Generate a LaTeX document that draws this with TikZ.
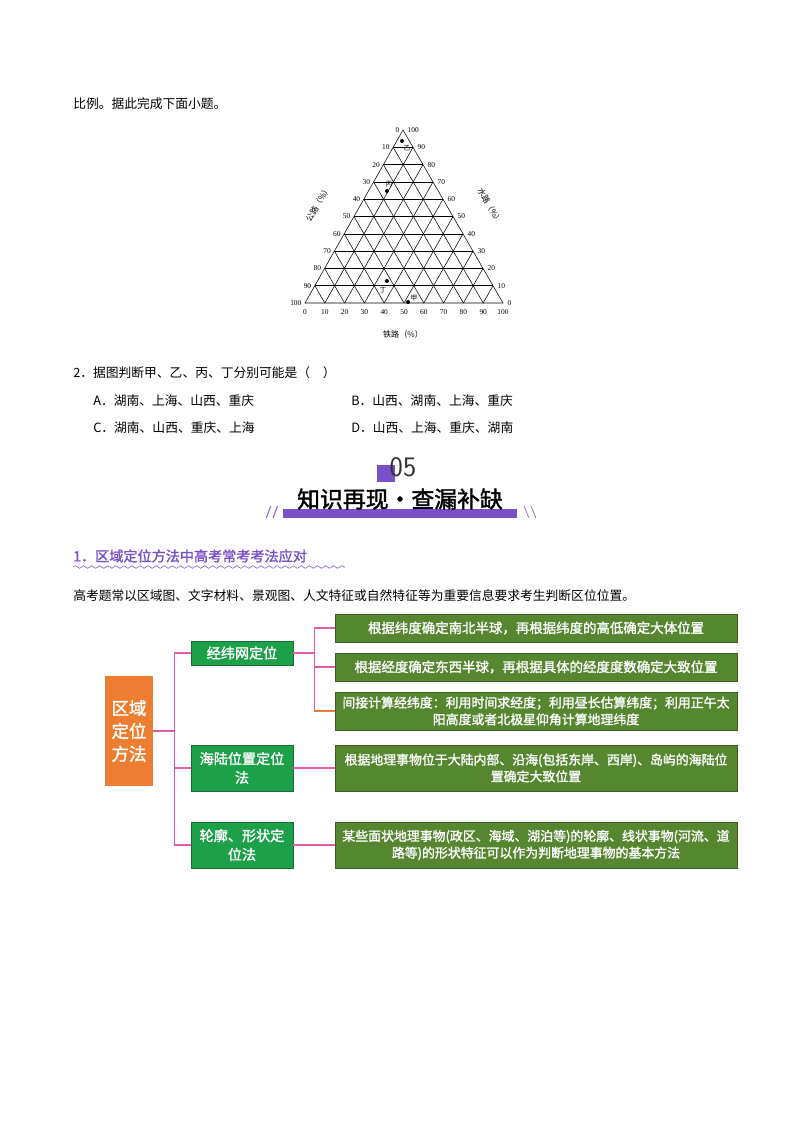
\documentclass[tikz,border=0pt]{standalone}
\usepackage{fontspec}
\setmainfont{Liberation Serif}
\newfontfamily\cjk{Noto Sans CJK SC}
\newfontfamily\cjkb[FakeBold=1.6]{Noto Sans CJK SC}
\usetikzlibrary{calc,decorations.pathmorphing}

\definecolor{leaf}{RGB}{84,135,48}
\definecolor{branch}{RGB}{28,160,72}
\definecolor{root}{RGB}{237,125,49}
\definecolor{link}{RGB}{226,90,170}
\definecolor{violet}{RGB}{120,80,200}

\tikzset{
  leafbox/.style={draw=leaf!70!black,fill=leaf,text=white,font=\cjkb\fontsize{10}{13}\selectfont,align=center,inner sep=2pt,minimum width=299pt},
  longleaf/.style={leafbox,font=\cjkb\fontsize{9.6}{12.5}\selectfont,inner sep=1pt},
  branchbox/.style={draw=branch!70!black,fill=branch,text=white,font=\cjkb\fontsize{10.5}{14}\selectfont,align=center,inner sep=2pt,minimum width=76pt},
  rootbox/.style={fill=root,text=white,font=\cjkb\fontsize{13}{17}\selectfont,align=center,inner sep=2pt},
  conn/.style={link,thick},
  tick/.style={font=\fontsize{5.5}{6}\selectfont,inner sep=1pt},
  axis/.style={font=\cjk\fontsize{6}{7}\selectfont},
  mark label/.style={font=\cjk\fontsize{5}{6}\selectfont,inner sep=0pt},
  body/.style={font=\cjk\fontsize{9.5}{12}\selectfont,anchor=west,inner sep=0pt}
}

\begin{document}
\begin{tikzpicture}[x=0.744pt,y=-0.744pt]
\useasboundingbox (0,0) rectangle (800,1132);
% question text
\node[body] (intro) at (73,104) {比例。据此完成下面小题。};
% ternary diagram
\coordinate (A) at (403,130);
\coordinate (L) at (305,303);
\coordinate (R) at (503,303);
\draw[thin] (A) -- (L) -- (R) -- cycle;
\foreach \i in {1,...,9}{
  \draw[thin] ($(L)!\i/10!(A)$) -- ($(R)!\i/10!(A)$);
  \draw[thin] ($(L)!\i/10!(R)$) -- ($(R)!1-\i/10!(A)$);
  \draw[thin] ($(L)!\i/10!(R)$) -- ($(L)!\i/10!(A)$);
}
\foreach \i in {0,...,10}{
  \pgfmathtruncatemacro\v{10*\i}
  \node[tick,anchor=east] at ($(A)!\i/10!(L)+(-2,0)$) {\v};
  \node[tick,anchor=west] at ($(R)!\i/10!(A)+(3,0)$) {\v};
  \node[tick,anchor=north] at ($(L)!\i/10!(R)+(0,5)$) {\v};
}
\node[axis,rotate=60] (road) at (318,204) {公路（\%）};
\node[axis,rotate=-60] (water) at (490,206) {水路（\%）};
\node[axis] (rail) at (403,334) {铁路（\%）};
\fill (402,141) circle (2);
\fill (387,191) circle (2);
\fill (387,281) circle (2);
\fill (408,302) circle (2);
\node[mark label] at (407,148) {乙};
\node[mark label] at (389,184) {丙};
\node[mark label] at (383,290) {丁};
\node[mark label] at (414,298) {甲};
% question 2
\node[body] (q2) at (73,373) {2．据图判断甲、乙、丙、丁分别可能是（\quad）};
\node[body] (qa) at (93,401) {A．湖南、上海、山西、重庆};
\node[body] (qb) at (351,401) {B．山西、湖南、上海、重庆};
\node[body] (qc) at (93,428) {C．湖南、山西、重庆、上海};
\node[body] (qd) at (351,428) {D．山西、上海、重庆、湖南};
% section header
\fill[violet] (377,465) rectangle (395,482);
\node[font=\fontsize{21}{24}\selectfont\sffamily,text=black!80] (num) at (403,467) {05};
\fill[violet] (283,509) rectangle (517,518);
\node[font=\cjkb\fontsize{17}{20}\selectfont,inner sep=0pt] (title) at (400,499) {知识再现·查漏补缺};
\node[font=\sffamily\bfseries\fontsize{9}{10}\selectfont,text=violet] at (272,512) {//};
\node[font=\sffamily\bfseries\fontsize{9}{10}\selectfont,text=violet] at (530,512) {\textbackslash\textbackslash};
\node[body,font=\cjkb\fontsize{10.5}{13}\selectfont,text=violet] (sub) at (73,556) {1．区域定位方法中高考常考考法应对};
\draw[violet,decorate,decoration={snake,amplitude=1pt,segment length=6pt}] (73,567) -- (345,567);
\node[body] (para) at (73,596) {高考题常以区域图、文字材料、景观图、人文特征或自然特征等为重要信息要求考生判断区位位置。};
% mind map
\node[rootbox,minimum width=36pt,minimum height=82pt] (m) at (129,731) {区域\\定位\\方法};
\node[branchbox,minimum height=18pt] (b1) at (242,653) {经纬网定位};
\node[branchbox,minimum height=34pt] (b2) at (242,768) {海陆位置定位\\法};
\node[branchbox,minimum height=34pt] (b3) at (242,845) {轮廓、形状定\\位法};
\node[leafbox,minimum height=21pt] (l1) at (536,628) {根据纬度确定南北半球，再根据纬度的高低确定大体位置};
\node[leafbox,minimum height=21pt] (l2) at (536,667) {根据经度确定东西半球，再根据具体的经度度数确定大致位置};
\node[longleaf,minimum height=28pt] (l3) at (536,711) {间接计算经纬度：利用时间求经度；利用昼长估算纬度；利用正午太\\阳高度或者北极星仰角计算地理纬度};
\node[longleaf,minimum height=34pt] (l4) at (536,768) {根据地理事物位于大陆内部、沿海(包括东岸、西岸)、岛屿的海陆位\\置确定大致位置};
\node[longleaf,minimum height=34pt] (l5) at (536,845) {某些面状地理事物(政区、海域、湖泊等)的轮廓、线状事物(河流、道\\路等)的形状特征可以作为判断地理事物的基本方法};
\draw[conn] (m.east) -- ++(21,0) coordinate (t);
\draw[conn] (t |- b1) -- (t |- b3);
\draw[conn] (t |- b1) -- (b1.west);
\draw[conn] (t |- b2) -- (b2.west);
\draw[conn] (t |- b3) -- (b3.west);
\draw[conn] (b1.east) -- ++(21,0) coordinate (u);
\draw[conn] (u |- l1) -- (u |- l3);
\draw[conn] (u |- l1) -- (l1.west);
\draw[conn] (u |- l2) -- (l2.west);
\draw[conn,root] (u |- l3) -- (l3.west);
\draw[conn] (b2.east) -- (l4.west);
\draw[conn] (b3.east) -- (l5.west);
\end{tikzpicture}
\end{document}
